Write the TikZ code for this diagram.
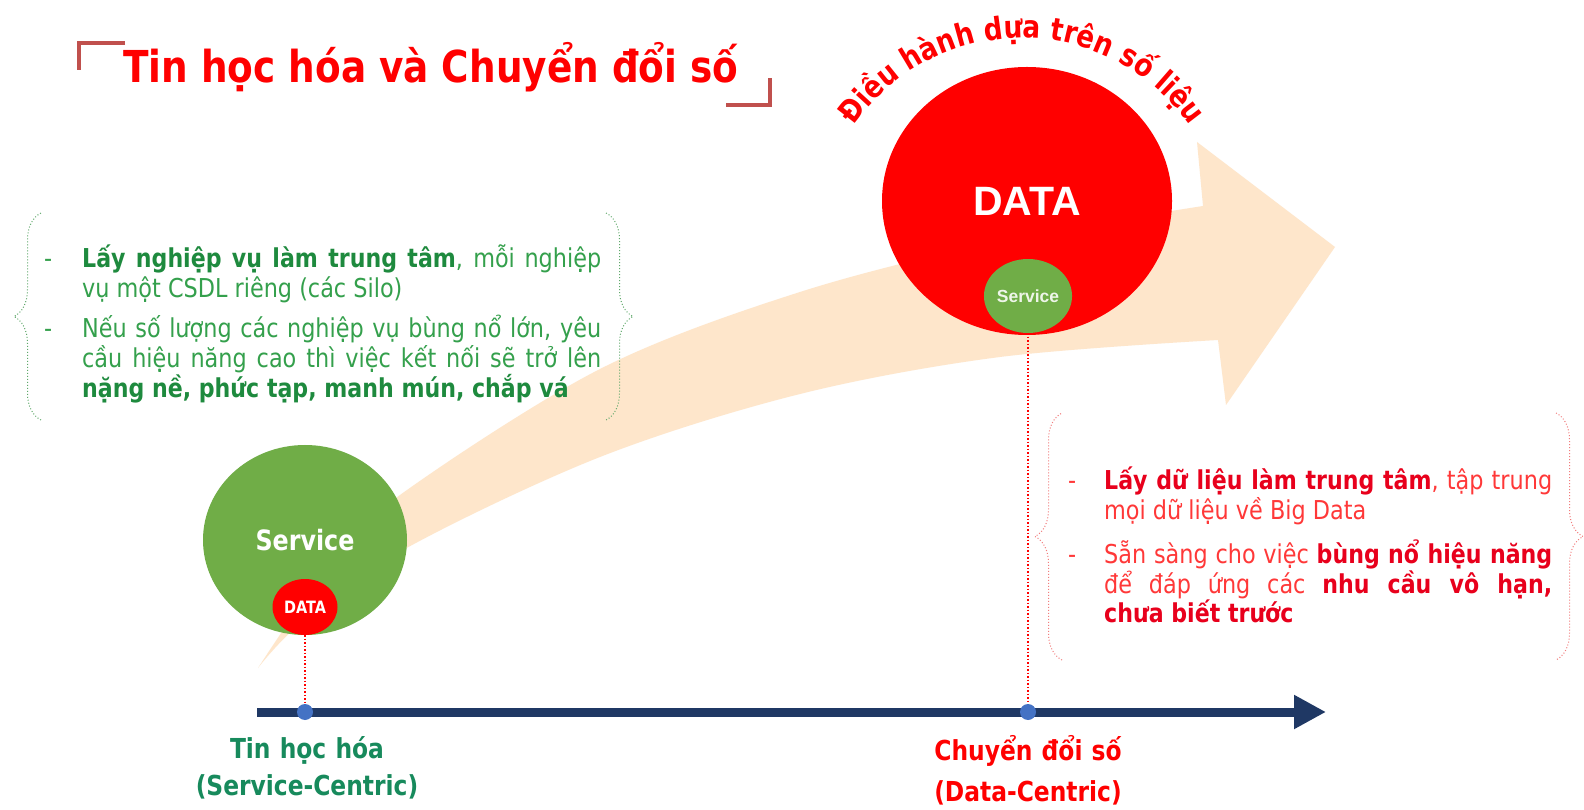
\documentclass[tikz,border=0pt]{standalone}
\usepackage{fontspec}
\setmainfont{DejaVu Sans}[FakeStretch=0.86,BoldFeatures={FakeStretch=0.85}]
\newfontfamily\arialfont{Liberation Sans}
\usetikzlibrary{calc,shapes.geometric,arrows.meta,decorations.pathreplacing,decorations.text}
\hyphenpenalty=10000
\exhyphenpenalty=10000

\definecolor{doDo}{HTML}{FF0000}
\definecolor{xanhLa}{HTML}{70AD47}
\definecolor{camNhat}{HTML}{FEE6CB}
\definecolor{xanhDam}{HTML}{1F3864}
\definecolor{xanhCham}{HTML}{4472C4}
\definecolor{nauDo}{HTML}{C0504D}
\definecolor{chuXanh}{HTML}{34A04C}
\definecolor{chuXanhDam}{HTML}{1E8A3E}
\definecolor{chuNhan}{HTML}{178A5C}
\definecolor{chuDo}{HTML}{FF3838}
\definecolor{chuDoDam}{HTML}{E8001C}
\definecolor{ngoacXanh}{HTML}{5FA86A}
\definecolor{ngoacDo}{HTML}{F27C7C}

\newcommand{\dayXanh}[1]{\textbf{\color{chuXanhDam}#1}}
\newcommand{\dayDo}[1]{\textbf{\color{chuDoDam}#1}}

\tikzset{
  vong/.style={ellipse, inner sep=0pt, text=white},
  cham/.style={circle, fill=xanhCham, inner sep=0pt, minimum size=16pt},
  noichuoi/.style={doDo, dotted, line width=1.5pt},
  ngoac/.style={decorate, decoration={brace, amplitude=27pt}, dotted, line width=1pt},
  doan/.style={anchor=base west, inner sep=0pt, align=justify,
    font=\fontsize{26}{30}\selectfont},
  gach/.style={anchor=base west, inner sep=0pt, font=\fontsize{26}{30}\selectfont},
  nhan/.style={anchor=base, inner sep=0pt, text width=340pt, align=center,
    font=\bfseries\fontsize{27.5}{37}\selectfont},
}

\begin{document}
\begin{tikzpicture}[x=1pt,y=1pt]
% Nền
\fill[white] (0,0) rectangle (1584,809);
% Mũi tên lớn
\fill[camNhat] plot[smooth, tension=0.55] coordinates {(258,141) (330,245) (400,314)
    (600,440) (800,517) (1000,568) (1203,603)}
  -- (1197,667) -- (1335,562) -- (1226,404) -- (1218,469)
  -- plot[smooth, tension=0.55] coordinates {(1218,469) (1000,452) (800,415)
    (600,352) (403,259) (300,185) (258,141)}
  -- cycle;
% Tiêu đề
\draw[nauDo, line width=4pt] (125,766) -- (79,766) -- (79,739);
\draw[nauDo, line width=4pt] (726,704) -- (770,704) -- (770,731);
\node[anchor=base west, inner sep=0pt, text=doDo, font=\bfseries\fontsize{44}{44}\selectfont]
  (tieuDe) at (123,726) {Tin học hóa và Chuyển đổi số};
% Vòng Service
\node[vong, fill=xanhLa, minimum width=204pt, minimum height=190pt,
  font=\bfseries\fontsize{28}{28}\selectfont] (svcLon) at (305,269) {Service};
\node[vong, fill=doDo, minimum width=65pt, minimum height=56pt,
  font=\bfseries\fontsize{17}{17}\selectfont] (dataNho) at (305,202) {DATA};
% Vòng DATA
\node[vong, fill=doDo, minimum width=290pt, minimum height=268pt,
  font=\arialfont\bfseries\fontsize{41}{41}\selectfont] (dataLon) at (1027,608) {DATA};
\node[vong, fill=xanhLa, minimum width=80pt, minimum height=74pt, text=white!88!xanhLa,
  font=\arialfont\bfseries\fontsize{17.5}{18}\selectfont] (svcNho) at (1028,513) {Service};
% Chữ cong
\coordinate (tamCung) at (1022,566);
\path[decorate, decoration={text along path, text align=center, text color=doDo,
    text={|\bfseries\fontsize{31}{31}\selectfont|Điều hành dựa trên số liệu}}]
  (tamCung) ++(160:205) arc[start angle=160, end angle=20, radius=205];
% Trục thời gian
\coordinate (trucDau) at (257,97);
\coordinate (trucCuoi) at (1326,97);
\draw[xanhDam, line width=9pt, -{Triangle[length=32pt,width=32pt]}] (trucDau) -- (trucCuoi);
\node[cham] (chamTrai) at (305,97) {};
\node[cham] (chamPhai) at (1028,97) {};
\draw[noichuoi] (dataNho.south) -- (chamTrai.north);
\draw[noichuoi] (svcNho.south) -- (chamPhai.north);
\node[nhan, text=chuNhan] (nhanTrai) at (307,51) {Tin học hóa\\(Service-Centric)};
\node[nhan, text=doDo] (nhanPhai) at (1028,49) {Chuyển đổi số\\[4pt](Data-Centric)};
% Khung trái
\draw[ngoac, ngoacXanh] (41,389) -- (41,596);
\draw[ngoac, ngoacXanh] (606,596) -- (606,389);
\node[gach, text=chuXanh] (gachT1) at (44,541) {-};
\node[doan, text=chuXanh, text width=519pt] (doanT1) at (82,541)
  {\dayXanh{Lấy nghiệp vụ làm trung tâm}, mỗi nghiệp\linebreak vụ một CSDL riêng (các Silo)};
\node[gach, text=chuXanh] (gachT2) at (44,471) {-};
\node[doan, text=chuXanh, text width=519pt] (doanT2) at (82,471)
  {Nếu số lượng các nghiệp vụ bùng nổ lớn, yêu\linebreak cầu hiệu năng cao thì việc kết nối sẽ trở lên\linebreak \dayXanh{nặng nề, phức tạp, manh mún, chắp vá}};
% Khung phải
\draw[ngoac, ngoacDo] (1062,149) -- (1062,396);
\draw[ngoac, ngoacDo] (1556,396) -- (1556,149);
\node[gach, text=chuDo] (gachP1) at (1068,319) {-};
\node[doan, text=chuDo, text width=448pt] (doanP1) at (1104,319)
  {\dayDo{Lấy dữ liệu làm trung tâm}, tập trung\linebreak mọi dữ liệu về Big Data};
\node[gach, text=chuDo] (gachP2) at (1068,246) {-};
\node[doan, text=chuDo, text width=448pt] (doanP2) at (1104,246)
  {Sẵn sàng cho việc \dayDo{bùng nổ hiệu năng}\linebreak để đáp ứng các \dayDo{nhu cầu vô hạn,}\linebreak \dayDo{chưa biết trước}};
\end{tikzpicture}
\end{document}
